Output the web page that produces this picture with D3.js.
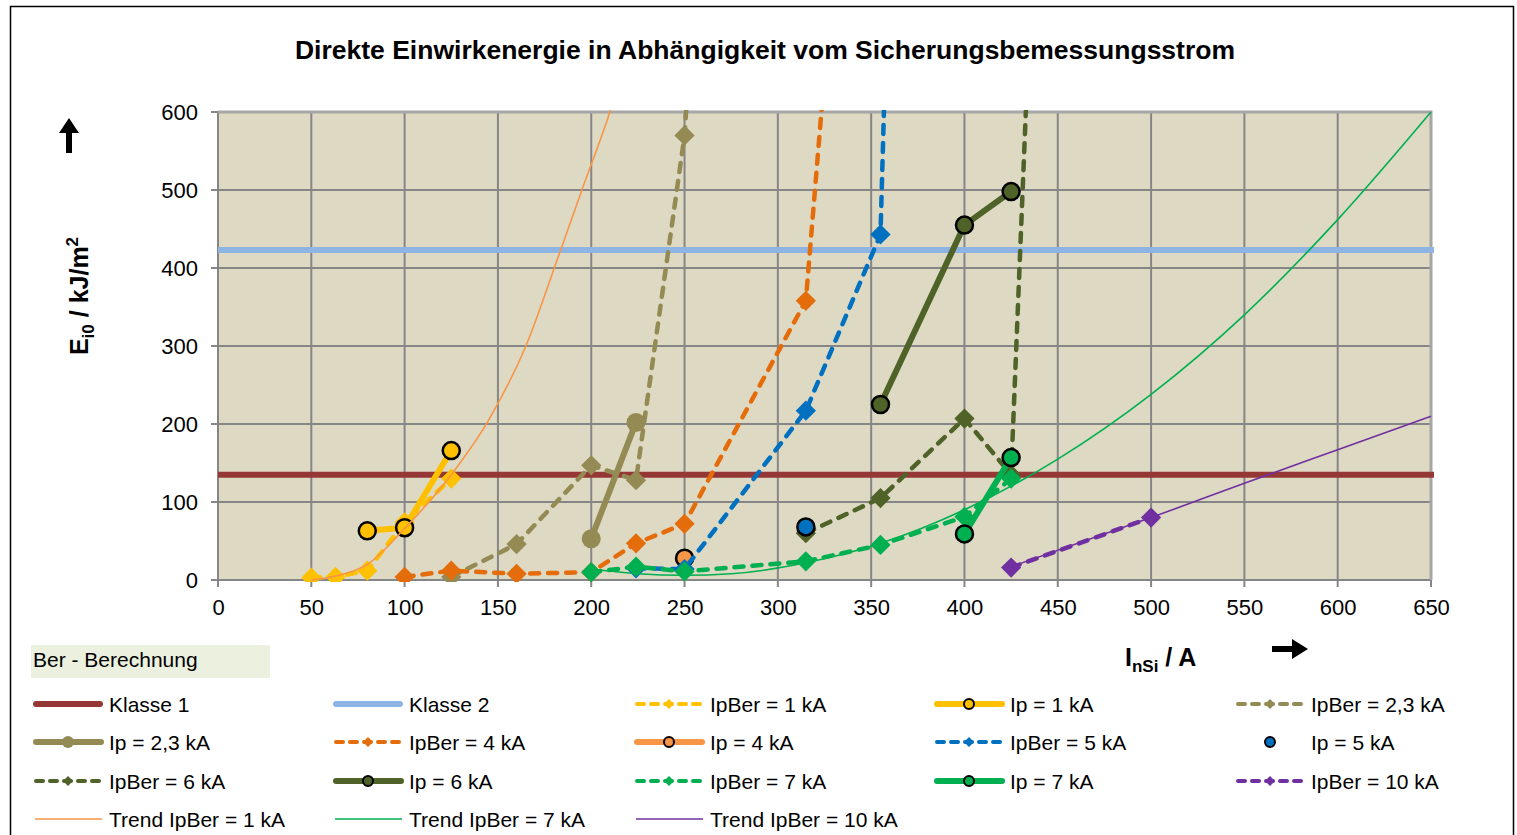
<!DOCTYPE html>
<html>
<head>
<meta charset="utf-8">
<script src="https://cdn.jsdelivr.net/npm/d3@7"></script>
<style>
  body { margin: 0; background: #fff; }
  svg text { font-family: "Liberation Sans", Arial, sans-serif; }
</style>
</head>
<body>
<div id="chart"></div>
<script>
// Direkte Einwirkenergie vs. Sicherungsbemessungsstrom
// values: [I_nSi in A, E_i0 in kJ/m2]

const xTicks = [0, 50, 100, 150, 200, 250, 300, 350, 400, 450, 500, 550, 600, 650];
const yTicks = [0, 100, 200, 300, 400, 500, 600];

const klasse1 = 135;
const klasse2 = 423;

const ipBer1  = [[50, 3], [63, 4], [80, 12], [100, 74], [125, 130]];
const ip1     = [[80, 63], [100, 67], [125, 166]];
const ipBer23 = [[125, 4], [160, 46], [200, 147], [224, 128], [250, 570], [315, 3010]];
const ip23    = [[200, 53], [224, 202]];
const ipBer4  = [[100, 4], [125, 12], [160, 8], [200, 10], [224, 47], [250, 72], [315, 358], [355, 1520]];
const ip4     = [[250, 28]];
const ipBer5  = [[224, 15], [250, 14], [315, 217], [355, 443], [400, 4300]];
const ip5     = [[315, 68]];
const ipBer6  = [[315, 60], [355, 105], [400, 207], [425, 135], [500, 4560]];
const ip6     = [[355, 225], [400, 455], [425, 498]];
const ipBer7  = [[200, 10], [224, 17], [250, 11], [315, 24], [355, 45], [400, 81], [425, 130]];
const ip7     = [[400, 59], [425, 157]];
const ipBer10 = [[425, 16], [500, 80]];

// trend lines, sampled by eye along the drawn curves
const trend1  = [[50, 0], [63, 5], [80, 20], [100, 66], [125, 135], [145, 205], [165, 300], [183, 419], [195, 500], [210, 600], [212, 615]];
const trend7  = [[200, 14], [225, 8], [250, 6], [275, 8], [315, 22], [355, 47], [400, 90], [450, 155], [500, 238], [550, 340], [600, 462], [650, 600]];
const trend10 = [[425, 17], [500, 80], [550, 124], [600, 167], [650, 210]];

const W = 1517, H = 835;
const plot = { left: 218, top: 112, right: 1431, bottom: 580 };

const svg = d3.select('#chart').append('svg')
  .attr('width', W).attr('height', H);

// chart area frame
svg.append('rect')
  .attr('x', 10.5).attr('y', 6.5).attr('width', 1503).attr('height', 860)
  .attr('fill', '#fff').attr('stroke', '#000').attr('stroke-width', 1.5);

const x = d3.scaleLinear().domain([0, 650]).range([plot.left, plot.right]);
const y = d3.scaleLinear().domain([0, 600]).range([plot.bottom, plot.top]);

// title
svg.append('text')
  .attr('x', 765).attr('y', 59)
  .attr('text-anchor', 'middle')
  .style('font-size', '26.5px').style('font-weight', 'bold')
  .text('Direkte Einwirkenergie in Abhängigkeit vom Sicherungsbemessungsstrom');

// plot background
svg.append('rect')
  .attr('x', plot.left).attr('y', plot.top)
  .attr('width', plot.right - plot.left).attr('height', plot.bottom - plot.top)
  .attr('fill', '#DDD9C3');

// grid
const grid = svg.append('g').attr('stroke', '#868686').attr('stroke-width', 2);
grid.selectAll('.gx').data(xTicks).join('line')
  .attr('x1', d => x(d)).attr('x2', d => x(d))
  .attr('y1', plot.top).attr('y2', plot.bottom + 7);
grid.selectAll('.gy').data(yTicks).join('line')
  .attr('x1', plot.left - 7).attr('x2', plot.right)
  .attr('y1', d => y(d)).attr('y2', d => y(d));

// frame top/right slightly lighter
svg.append('path')
  .attr('d', `M${plot.left},${plot.top}H${plot.right}V${plot.bottom}`)
  .attr('fill', 'none').attr('stroke', '#A6A6A6').attr('stroke-width', 3);

// tick labels via d3 axes (lines hidden, grid drawn above)
const xAxisG = svg.append('g')
  .attr('transform', `translate(0,${plot.bottom})`)
  .call(d3.axisBottom(x).tickValues(xTicks).tickSize(0).tickPadding(19));
const yAxisG = svg.append('g')
  .attr('transform', `translate(${plot.left},0)`)
  .call(d3.axisLeft(y).tickValues(yTicks).tickSize(0).tickPadding(20));
[xAxisG, yAxisG].forEach(g => {
  g.select('.domain').remove();
  g.selectAll('text')
    .attr('fill', '#000')
    .style('font-size', '22px')
    .style('font-family', '"Liberation Sans", Arial, sans-serif');
});
yAxisG.selectAll('text').attr('dy', '0.36em');

// clip
svg.append('clipPath').attr('id', 'clip')
  .append('rect')
  .attr('x', plot.left).attr('y', plot.top - 2)
  .attr('width', plot.right - plot.left + 3).attr('height', plot.bottom - plot.top + 4);

const gData = svg.append('g').attr('clip-path', 'url(#clip)');

const line = d3.line().x(d => x(d[0])).y(d => y(d[1]));
const smooth = d3.line().x(d => x(d[0])).y(d => y(d[1])).curve(d3.curveMonotoneX);

// Klasse lines
gData.append('line')
  .attr('x1', x(0)).attr('x2', x(650) + 3)
  .attr('y1', y(klasse1)).attr('y2', y(klasse1))
  .attr('stroke', '#953735').attr('stroke-width', 6);
gData.append('line')
  .attr('x1', x(0)).attr('x2', x(650) + 3)
  .attr('y1', y(klasse2)).attr('y2', y(klasse2))
  .attr('stroke', '#8EB4E3').attr('stroke-width', 6);

const DASH = '9 9';

const series = [
  { name: 'IpBer = 1 kA',   data: ipBer1,  color: '#FFC000', type: 'dash' },
  { name: 'Ip = 1 kA',      data: ip1,     color: '#FFC000', type: 'solid', ring: true },
  { name: 'IpBer = 2,3 kA', data: ipBer23, color: '#948A54', type: 'dash' },
  { name: 'Ip = 2,3 kA',    data: ip23,    color: '#948A54', type: 'solid', ring: false },
  { name: 'IpBer = 4 kA',   data: ipBer4,  color: '#E46C0A', type: 'dash' },
  { name: 'Ip = 4 kA',      data: ip4,     color: '#F79646', type: 'solid', ring: true },
  { name: 'IpBer = 5 kA',   data: ipBer5,  color: '#0070C0', type: 'dash' },
  { name: 'IpBer = 6 kA',   data: ipBer6,  color: '#4F6228', type: 'dash' },
  { name: 'Ip = 5 kA',      data: ip5,     color: '#0070C0', type: 'none', ring: true },
  { name: 'Ip = 6 kA',      data: ip6,     color: '#4F6228', type: 'solid', ring: true },
  { name: 'IpBer = 7 kA',   data: ipBer7,  color: '#00B050', type: 'dash' },
  { name: 'Ip = 7 kA',      data: ip7,     color: '#00B050', type: 'solid', ring: true },
  { name: 'IpBer = 10 kA',  data: ipBer10, color: '#7030A0', type: 'dash' }
];

const diamond = d3.symbol().type(d3.symbolSquare).size(205)();

series.forEach(s => {
  if (s.type !== 'none') {
    gData.append('path')
      .datum(s.data)
      .attr('d', line)
      .attr('fill', 'none')
      .attr('stroke', s.color)
      .attr('stroke-width', s.type === 'dash' ? 4.5 : 6)
      .attr('stroke-dasharray', s.type === 'dash' ? DASH : null)
      .attr('stroke-linecap', 'round')
      .attr('stroke-linejoin', 'round');
  }
  if (s.type === 'dash') {
    gData.selectAll(null).data(s.data).join('path')
      .attr('d', diamond)
      .attr('transform', d => `translate(${x(d[0])},${y(d[1])}) rotate(45)`)
      .attr('fill', s.color);
  } else {
    gData.selectAll(null).data(s.data).join('circle')
      .attr('cx', d => x(d[0])).attr('cy', d => y(d[1]))
      .attr('r', s.ring ? 8.5 : 9.5)
      .attr('fill', s.color)
      .attr('stroke', s.ring ? '#000' : null)
      .attr('stroke-width', s.ring ? 2.5 : null);
  }
});

// trend lines
const trends = [
  { data: trend1,  color: '#F79646' },
  { data: trend7,  color: '#00B050' },
  { data: trend10, color: '#7030A0' }
];
trends.forEach(t => {
  gData.append('path').datum(t.data)
    .attr('d', smooth)
    .attr('fill', 'none')
    .attr('stroke', t.color)
    .attr('stroke-width', 1.6);
});

// y axis title with arrow
const yTitle = svg.append('text')
  .attr('transform', 'translate(88,296) rotate(-90)')
  .attr('text-anchor', 'middle')
  .style('font-size', '25px').style('font-weight', 'bold');
yTitle.append('tspan').text('E');
yTitle.append('tspan').attr('dy', 6).style('font-size', '17px').text('i0');
yTitle.append('tspan').attr('dy', -6).text(' / kJ/m');
yTitle.append('tspan').attr('dy', -10).style('font-size', '17px').text('2');

svg.append('path')
  .attr('d', 'M69,118 L79,133 L72,133 L72,153 L66,153 L66,133 L59,133 Z')
  .attr('fill', '#000');

// x axis title with arrow
const xTitle = svg.append('text')
  .attr('x', 1125).attr('y', 666)
  .style('font-size', '25px').style('font-weight', 'bold');
xTitle.append('tspan').text('I');
xTitle.append('tspan').attr('dy', 6).style('font-size', '17px').text('nSi');
xTitle.append('tspan').attr('dy', -6).text(' / A');

svg.append('path')
  .attr('d', 'M1308,649 L1292,639 L1292,646 L1272,646 L1272,652 L1292,652 L1292,659 Z')
  .attr('fill', '#000');

// legend
svg.append('rect')
  .attr('x', 31).attr('y', 645).attr('width', 239).attr('height', 33)
  .attr('fill', '#EBF1DE');
svg.append('text')
  .attr('x', 33).attr('y', 667)
  .style('font-size', '21px')
  .text('Ber - Berechnung');

const legendItems = [
  { name: 'Klasse 1', color: '#953735', type: 'klasse' },
  { name: 'Klasse 2', color: '#8EB4E3', type: 'klasse' },
  ...series.filter(s => s.name !== 'Ip = 5 kA' && s.name !== 'IpBer = 6 kA').slice(0, 7),
  series.find(s => s.name === 'Ip = 5 kA'),
  series.find(s => s.name === 'IpBer = 6 kA'),
  ...series.slice(9),
  { name: 'Trend IpBer = 1 kA',  color: '#F79646', type: 'trend' },
  { name: 'Trend IpBer = 7 kA',  color: '#00B050', type: 'trend' },
  { name: 'Trend IpBer = 10 kA', color: '#7030A0', type: 'trend' }
];

const colX = [33, 333, 634, 934, 1235];
const rowY = [704, 742, 781, 819];

legendItems.forEach((s, i) => {
  const x0 = colX[i % 5], y0 = rowY[Math.floor(i / 5)];
  const g = svg.append('g').attr('transform', `translate(${x0},${y0})`);
  if (s.type === 'klasse') {
    g.append('line').attr('x1', 3).attr('x2', 67)
      .attr('stroke', s.color).attr('stroke-width', 6).attr('stroke-linecap', 'round');
  } else if (s.type === 'trend') {
    g.append('line').attr('x1', 2).attr('x2', 69)
      .attr('stroke', s.color).attr('stroke-width', 1.6);
  } else if (s.type === 'dash') {
    g.append('line').attr('x1', 3).attr('x2', 68)
      .attr('stroke', s.color).attr('stroke-width', 4)
      .attr('stroke-dasharray', '7 7').attr('stroke-linecap', 'round');
    g.append('path').attr('d', d3.symbol().type(d3.symbolSquare).size(50)())
      .attr('transform', 'translate(35,0) rotate(45)')
      .attr('fill', s.color);
  } else {
    if (s.type === 'solid') {
      g.append('line').attr('x1', 3).attr('x2', 68)
        .attr('stroke', s.color).attr('stroke-width', 6).attr('stroke-linecap', 'round');
    }
    g.append('circle').attr('cx', 35).attr('r', s.ring ? 5 : 6)
      .attr('fill', s.color)
      .attr('stroke', s.ring ? '#000' : null)
      .attr('stroke-width', s.ring ? 2 : null);
  }
  g.append('text').attr('x', 76).attr('dy', '0.36em')
    .style('font-size', '21px')
    .text(s.name);
});
</script>
</body>
</html>
